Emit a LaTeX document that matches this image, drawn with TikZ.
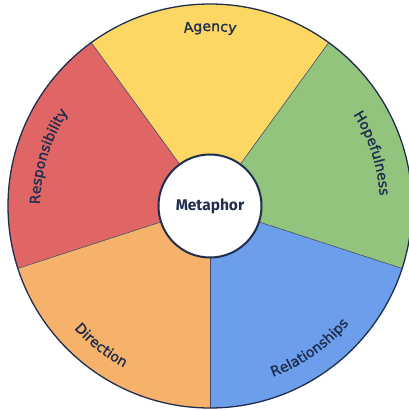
\documentclass[tikz,border=0pt]{standalone}
\usepackage{fontspec}
\setmainfont{DejaVu Sans}
\newfontfamily\lblfont[FakeBold=1.4]{DejaVu Sans}
\newfontfamily\hubfont{Fira Sans}
\usetikzlibrary{decorations.text}

\definecolor{ink}{HTML}{1F2D4F}
\definecolor{agencyc}{HTML}{FDD764}
\definecolor{hopec}{HTML}{93C47D}
\definecolor{relc}{HTML}{6D9EEB}
\definecolor{dirc}{HTML}{F6B26B}
\definecolor{respc}{HTML}{E06666}

\tikzset{
  arclabel/.style={decorate, decoration={text along path, text align=center,
      text color=ink, text={|\lblfont\fontsize{14}{16}\selectfont|#1}}},
  hub/.style={circle, draw=ink, line width=2pt, fill=white, minimum size=103pt,
      inner sep=0pt, text=ink, font=\hubfont\bfseries\fontsize{15.5}{18}\selectfont}
}

\begin{document}
\begin{tikzpicture}[x=1pt,y=1pt]
\useasboundingbox (-210,-204) rectangle (199,206);

% sectors
\foreach \a/\c in {54/agencyc,126/respc,198/dirc,270/relc,342/hopec}
  \fill[\c] (0,0) -- (\a:202) arc[start angle=\a, end angle=\a+72, radius=202] -- cycle;
\foreach \a in {54,126,198,270,342}
  \draw[ink!85, line width=0.6pt] (0,0) -- (\a:202);
\draw[ink, line width=1.3pt] (0,0) circle[radius=202];

\node[hub] (M) at (0,0) {Metaphor};

% labels
\path[arclabel=Agency] (130:175) arc[start angle=130, end angle=50, radius=175];
\path[arclabel=Hopefulness] (58:170) arc[start angle=58, end angle=-22, radius=170];
\path[arclabel=Responsibility] (203:170) arc[start angle=203, end angle=123, radius=170];
\path[arclabel=Direction] (194:183) arc[start angle=194, end angle=270, radius=183];
\path[arclabel=Relationships] (-95:182) arc[start angle=-95, end angle=-15, radius=182];
\end{tikzpicture}
\end{document}
